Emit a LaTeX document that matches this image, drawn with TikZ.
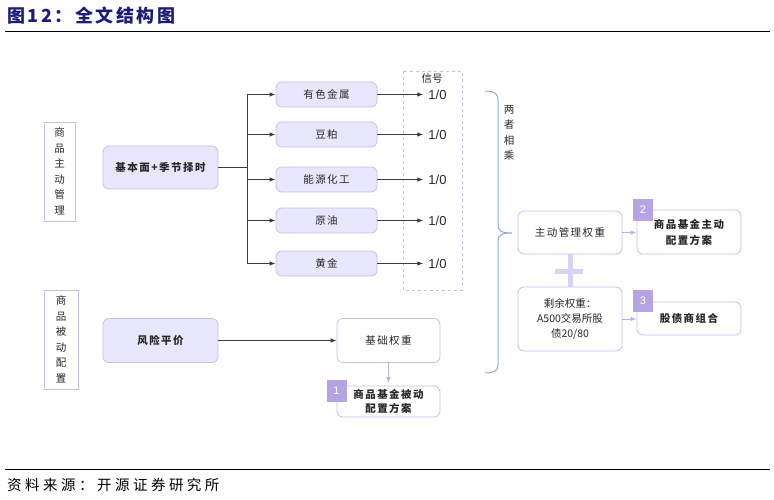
\documentclass[tikz,border=0pt]{standalone}
\usepackage{fontspec}
\setmainfont{Liberation Sans}
\newfontfamily\cjk{Noto Sans CJK SC}
\newfontfamily\cjkls[LetterSpace=14]{Noto Sans CJK SC}
\newfontfamily\cjksrc[LetterSpace=24]{Noto Sans CJK SC}
\newfontfamily\cjktitle[LetterSpace=14]{Noto Sans CJK SC}
\usetikzlibrary{arrows.meta}
\definecolor{titleblue}{RGB}{28,28,120}
\definecolor{boxborder}{RGB}{200,188,240}
\definecolor{boxfill}{RGB}{232,230,251}
\definecolor{badgefill}{RGB}{180,164,228}
\definecolor{lavline}{RGB}{190,176,236}
\definecolor{plusfill}{RGB}{218,210,242}
\definecolor{bracecol}{RGB}{142,170,219}
\definecolor{txt}{RGB}{40,40,40}
\definecolor{linecol}{RGB}{60,60,60}
\begin{document}
\begin{tikzpicture}[x=1pt,y=-1pt,
  nodefont/.style={font=\cjkls\fontsize{10.5}{14}\selectfont, text=txt},
  fillbox/.style={draw=boxborder, fill=boxfill, rounded corners=6pt, line width=0.8pt, nodefont, inner sep=0pt, align=center},
  whitebox/.style={draw=boxborder, fill=white, rounded corners=6pt, line width=0.8pt, nodefont, inner sep=0pt, align=center},
  boldtext/.style={font=\cjkls\bfseries\fontsize{10.5}{16}\selectfont},
  badge/.style={fill=badgefill, text=white, minimum width=20pt, minimum height=22pt, inner sep=0pt, font=\fontsize{11}{11}\selectfont},
  vlabel/.style={draw=boxborder, line width=0.8pt, fill=white, inner sep=0pt, align=center, font=\cjk\fontsize{10.5}{15.5}\selectfont, text=txt},
  blackarr/.style={draw=linecol, line width=0.9pt, -{Latex[length=6pt,width=4.5pt]}},
  lavarr/.style={draw=lavline, line width=0.9pt, -{Latex[length=6pt,width=4.5pt]}},
  plain/.style={draw=linecol, line width=0.9pt}
]
\useasboundingbox (0,0) rectangle (774,499);

% title and rules
\node[anchor=west, inner sep=0pt, text=titleblue, font=\cjktitle\bfseries\fontsize{18}{18}\selectfont] (title) at (7,16) {图12：全文结构图};
\coordinate (r1a) at (5,31); \coordinate (r1b) at (770,31);
\draw[line width=1pt] (r1a) -- (r1b);
\coordinate (r2a) at (5,469); \coordinate (r2b) at (770,469);
\draw[line width=1pt] (r2a) -- (r2b);
\node[anchor=west, inner sep=0pt, text=black, font=\cjksrc\fontsize{14.5}{14.5}\selectfont] (src) at (7,485) {资料来源：开源证券研究所};

% left vertical labels
\node[vlabel, minimum width=31pt, minimum height=99pt] (lab1) at (59.5,171.5) {商\\品\\主\\动\\管\\理};
\node[vlabel, minimum width=34pt, minimum height=99pt] (lab2) at (61,339.5) {商\\品\\被\\动\\配\\置};

% signal dashed box
\draw[draw=boxborder, dashed, line width=0.8pt] (403,71) rectangle (462,290);
\node[nodefont, inner sep=0pt, font=\cjk\fontsize{10.5}{12}\selectfont] (sig) at (432,79) {信号};

% main driver
\node[fillbox, boldtext, minimum width=115pt, minimum height=43pt] (jb) at (160.5,167.5) {基本面+季节择时};

% commodities
\node[fillbox, minimum width=101pt, minimum height=25pt] (c1) at (326.5,94.5) {有色金属};
\node[fillbox, minimum width=101pt, minimum height=25pt] (c2) at (326.5,134.5) {豆粕};
\node[fillbox, minimum width=101pt, minimum height=25pt] (c3) at (326.5,179.5) {能源化工};
\node[fillbox, minimum width=101pt, minimum height=25pt] (c4) at (326.5,220.5) {原油};
\node[fillbox, minimum width=101pt, minimum height=25pt] (c5) at (326.5,263.5) {黄金};

\coordinate (trunk) at (247,167.5);
\draw[plain] (jb.east) -- (trunk);
\draw[plain] (trunk |- c1.west) -- (trunk |- c5.west);
\foreach \c in {c1,c2,c3,c4,c5}{
  \draw[blackarr] (trunk |- \c.west) -- (\c.west);
}

% 1/0 outputs
\foreach \c/\i in {c1/1,c2/2,c3/3,c4/4,c5/5}{
  \node[inner sep=0pt, font=\fontsize{13}{13}\selectfont, text=txt] (o\i) at (437.5,0 |- \c.east) {1/0};
  \draw[blackarr, shorten >=5pt] (\c.east) -- (o\i.west);
}

% brace
\draw[draw=bracecol, line width=1pt] (485,91) .. controls (494,91) and (498,93) .. (498,100)
  -- (498,224) .. controls (498,231) and (501,233) .. (512,233)
  .. controls (501,233) and (498,235) .. (498,242)
  -- (498,365) .. controls (498,371) and (494,373) .. (485,373);
\node[inner sep=0pt, align=center, font=\cjk\fontsize{10.5}{15.5}\selectfont, text=txt] (lx) at (509,133) {两\\者\\相\\乘};

% right side
\node[whitebox, minimum width=104pt, minimum height=43pt] (zd) at (570,232.5) {主动管理权重};
\node[whitebox, boldtext, minimum width=104pt, minimum height=44pt] (p2) at (689,232) {商品基金主动\\配置方案};
\node[badge] (b2) at (643,210) {2};
\draw[lavarr] (zd.east) -- (zd.east -| p2.west);

\node[whitebox, minimum width=104pt, minimum height=64pt, font=\cjk\fontsize{10.5}{15}\selectfont] (sy) at (570,319) {剩余权重：\\A500交易所股\\债20/80};
\node[whitebox, boldtext, minimum width=104pt, minimum height=33pt] (p3) at (689,318.5) {股债商组合};
\node[badge] (b3) at (643,301) {3};
\draw[lavarr] (sy.east) -- (sy.east -| p3.west);

% plus sign
\draw[draw=plusfill, line width=5pt] (zd.south) -- (sy.north);
\coordinate (pl) at (555,271); \coordinate (pr) at (583,271);
\draw[draw=plusfill, line width=5pt] (pl) -- (pr);

% passive
\node[fillbox, boldtext, minimum width=115pt, minimum height=44pt] (fx) at (160.5,340.5) {风险平价};
\node[whitebox, minimum width=103pt, minimum height=44pt] (jc) at (388.5,340.5) {基础权重};
\draw[blackarr] (fx.east) -- (jc.west);
\node[whitebox, boldtext, minimum width=103pt, minimum height=31pt, font=\cjkls\bfseries\fontsize{10.5}{14}\selectfont] (p1) at (388.5,401.5) {商品基金被动\\配置方案};
\node[badge] (b1) at (336.5,391) {1};
\coordinate (p1top) at (388.5,383);
\draw[lavarr] (jc.south) -- (p1top);
\end{tikzpicture}
\end{document}
